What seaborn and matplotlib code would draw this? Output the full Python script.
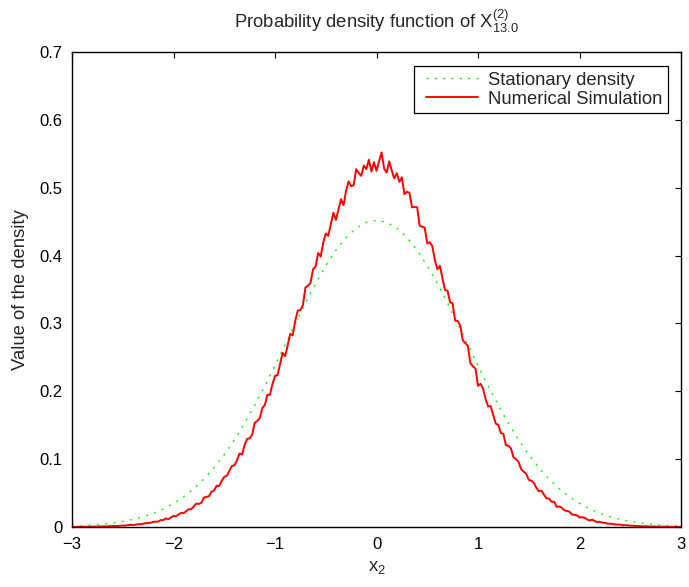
import numpy as np
import pandas as pd
import matplotlib
matplotlib.use("Agg")
import matplotlib.pyplot as plt
from matplotlib.lines import Line2D
from matplotlib.legend_handler import HandlerLine2D
import seaborn as sns

# stationary density, read every 0.1 from 0 to 3 (symmetric)
x_stat = np.linspace(-3, 3, 61)
stat_half = [0.452, 0.4491, 0.4405, 0.4266, 0.4079, 0.3850, 0.3588, 0.3300,
             0.2997, 0.2687, 0.2379, 0.2079, 0.1793, 0.1527, 0.1284, 0.1066,
             0.0874, 0.0707, 0.0565, 0.0445, 0.0347, 0.0266, 0.0202, 0.0151,
             0.0112, 0.0082, 0.0059, 0.0042, 0.0029, 0.0020, 0.0014]
stat_vals = stat_half[::-1] + stat_half[1:]

# numerical simulation, read every 0.025 from -3 to 3
x_sim = np.linspace(-3, 3, 241)
sim_left = [
    0.0003, 0.0001, 0.0002, 0.0004, 0.0002, 0.0003, 0.0005, 0.0003, 0.0005, 0.0007,
    0.0006, 0.0006, 0.0009, 0.0009, 0.0009, 0.0013, 0.0013, 0.0016, 0.0015, 0.0019,
    0.0022, 0.0021, 0.0027, 0.0032, 0.0029, 0.0034, 0.0041, 0.0041, 0.0049, 0.0056,
    0.0058, 0.0063, 0.0075, 0.0080, 0.0079, 0.0102, 0.0102, 0.0127, 0.0115, 0.0143,
    0.0162, 0.0159, 0.0183, 0.0209, 0.0204, 0.0232, 0.0261, 0.0263, 0.0303, 0.0345,
    0.0340, 0.0358, 0.0435, 0.0442, 0.0455, 0.0522, 0.0539, 0.0609, 0.0604, 0.0681,
    0.0740, 0.0754, 0.0826, 0.0900, 0.0910, 0.0981, 0.1083, 0.1067, 0.1204, 0.1299,
    0.1306, 0.1361, 0.1534, 0.1564, 0.1607, 0.1752, 0.1800, 0.1949, 0.1947, 0.2106,
    0.2227, 0.2237, 0.2401, 0.2566, 0.2518, 0.2677, 0.2847, 0.2825, 0.3044, 0.3191,
    0.3195, 0.3270, 0.3529, 0.3556, 0.3598, 0.3799, 0.3839, 0.4037, 0.3986, 0.4188,
    0.4324, 0.4293, 0.4464, 0.4631, 0.4525, 0.4675, 0.4831, 0.4743, 0.4951, 0.5094,
    0.5023, 0.5036, 0.5274, 0.5217, 0.5175, 0.5327, 0.5273, 0.5413, 0.5238, 0.5377,
]
sim_right = [
    0.5250, 0.5387, 0.5520, 0.5283, 0.5223, 0.5387, 0.5255, 0.5137, 0.5214, 0.5086,
    0.5153, 0.4904, 0.4941, 0.4923, 0.4711, 0.4715, 0.4715, 0.4441, 0.4424, 0.4413,
    0.4180, 0.4196, 0.4138, 0.3933, 0.3799, 0.3847, 0.3662, 0.3492, 0.3481, 0.3310,
    0.3299, 0.3039, 0.3036, 0.2969, 0.2751, 0.2709, 0.2670, 0.2414, 0.2369, 0.2333,
    0.2080, 0.2111, 0.2042, 0.1884, 0.1775, 0.1782, 0.1647, 0.1524, 0.1504, 0.1386,
    0.1371, 0.1204, 0.1199, 0.1157, 0.1023, 0.1001, 0.0957, 0.0853, 0.0816, 0.0784,
    0.0695, 0.0683, 0.0651, 0.0576, 0.0526, 0.0537, 0.0476, 0.0422, 0.0420, 0.0371,
    0.0372, 0.0298, 0.0302, 0.0285, 0.0247, 0.0236, 0.0227, 0.0186, 0.0179, 0.0173,
    0.0140, 0.0144, 0.0138, 0.0111, 0.0096, 0.0109, 0.0088, 0.0071, 0.0078, 0.0064,
    0.0062, 0.0050, 0.0049, 0.0046, 0.0037, 0.0036, 0.0035, 0.0026, 0.0025, 0.0025,
    0.0020, 0.0019, 0.0017, 0.0014, 0.0012, 0.0013, 0.0010, 0.0008, 0.0008, 0.0007,
    0.0007, 0.0005, 0.0005, 0.0005, 0.0003, 0.0003, 0.0003, 0.0002, 0.0002, 0.0002,
    0.0002,
]
sim_vals = sim_left + sim_right

df_stat = pd.DataFrame({"x": x_stat, "y": stat_vals})
df_sim = pd.DataFrame({"x": x_sim, "y": sim_vals})

sns.set_style("white")
plt.rcParams["font.family"] = ["Liberation Sans", "DejaVu Sans"]
plt.rcParams["mathtext.default"] = "regular"

fig = plt.figure(figsize=(6.89, 5.87), dpi=100)
ax = fig.add_axes([0.1045, 0.1022, 0.8839, 0.8092])

sns.lineplot(x="x", y="y", data=df_stat, ax=ax, color=(0, 1, 0), lw=1.0,
             label="Stationary density")
ax.lines[-1].set_dashes((1.5, 4.5))
sns.lineplot(x="x", y="y", data=df_sim, ax=ax, color=(1, 0, 0), lw=1.4,
             label="Numerical Simulation")

ax.set_xlim(-3, 3)
ax.set_ylim(0, 0.7)
ax.set_xticks([-3, -2, -1, 0, 1, 2, 3])
ax.set_xticklabels(["\u22123", "\u22122", "\u22121", "0", "1", "2", "3"])
ax.set_yticks([0, 0.1, 0.2, 0.3, 0.4, 0.5, 0.6, 0.7])
ax.set_yticklabels(["0", "0.1", "0.2", "0.3", "0.4", "0.5", "0.6", "0.7"])
ax.tick_params(direction="in", length=4, width=0.8, top=True, right=True,
               labelsize=12, colors="black", pad=7)
for s in ax.spines.values():
    s.set_visible(True)
    s.set_color("black")
    s.set_linewidth(1.0)

ax.set_title(r"Probability density function of $X^{(2)}_{13.0}$", fontsize=13.3, pad=17)
ax.set_xlabel(r"x$_2$", fontsize=13.3, labelpad=5)
ax.set_ylabel("Value of the density", fontsize=13.3, labelpad=7)

leg = ax.legend(loc="upper right", bbox_to_anchor=(0.978, 0.97), borderaxespad=0,
                frameon=True, fancybox=False, framealpha=1, edgecolor="black",
                handlelength=3.16, handletextpad=0.54, borderpad=0.3,
                labelspacing=0.1, fontsize=13.3,
                handler_map={Line2D: HandlerLine2D(xpad=0.35)})
leg.get_frame().set_linewidth(0.9)

fig.savefig("out.png", dpi=100)
